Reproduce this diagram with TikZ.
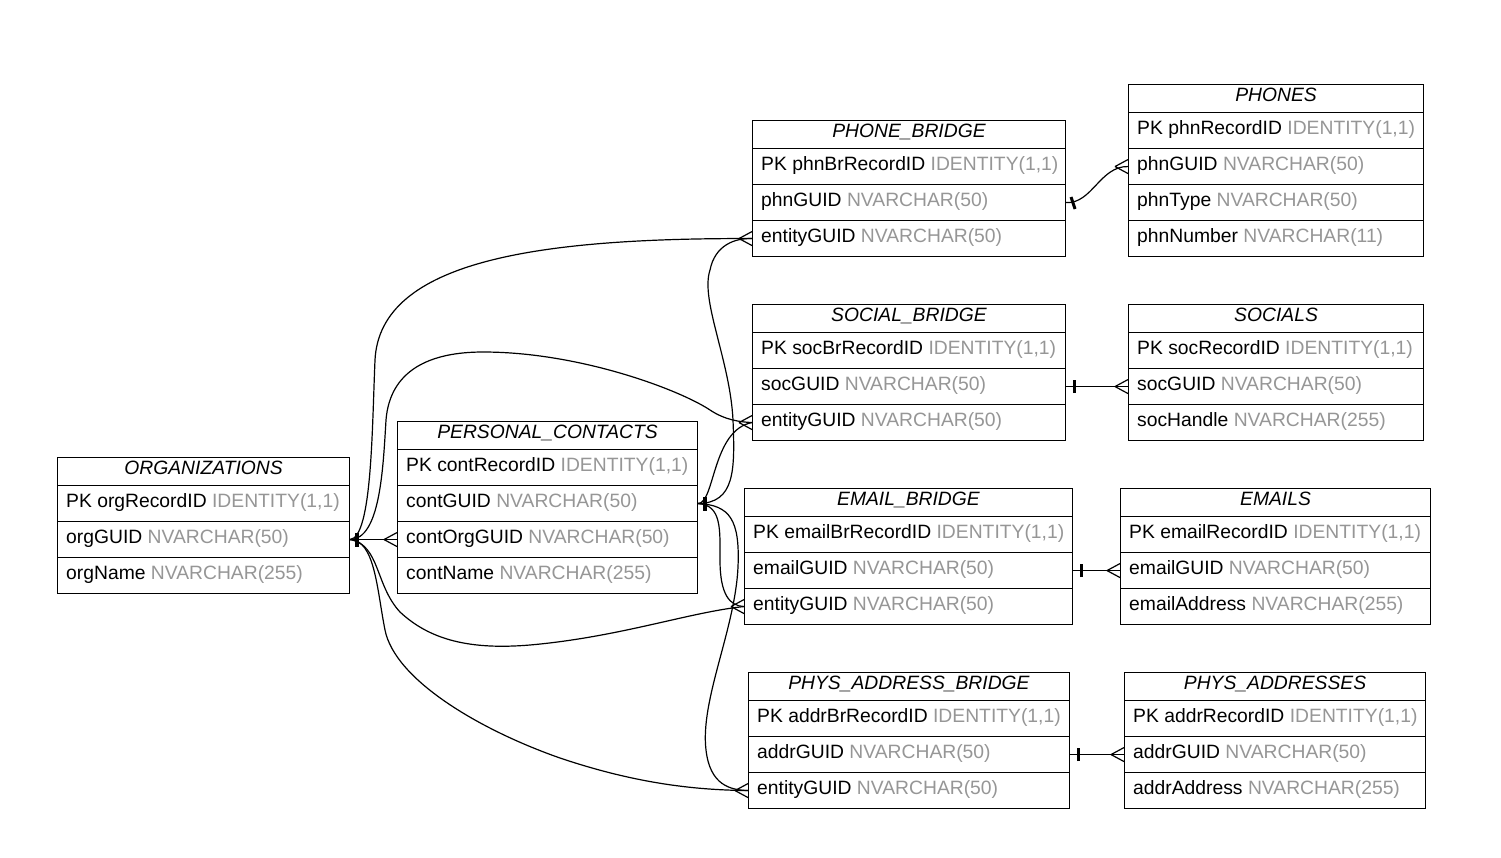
\documentclass[tikz,border=0pt]{standalone}
\usepackage{fontspec}
\setmainfont{Liberation Sans}
\definecolor{gtxt}{RGB}{150,150,150}
\tikzset{
  hdr/.style={draw, line width=1.1pt, anchor=north west, minimum height=28pt, inner sep=0pt, text height=12pt, text depth=6pt},
  rw/.style={draw, line width=1.1pt, anchor=north west, minimum height=36pt, inner sep=0pt},
  txt/.style={inner sep=0pt, text height=13pt, text depth=5pt, anchor=west},
  conn/.style={line width=1.2pt},
  onebar/.style={line width=3pt}
}
\newcommand{\ttl}[5]{\node[hdr, minimum width=#4] (#1) at (#2,#3) {\textit{#5}};}
\newcommand{\erow}[6]{\node[rw, minimum width=#4] (#1) at (#2,#3) {};
  \node[txt] (#1t) at ([xshift=9pt]#1.west) {#5 \textcolor{gtxt}{#6}};}
\newcommand{\crow}[1]{\draw[conn] ([xshift=-13pt]#1) -- ([yshift=7pt]#1) ([xshift=-13pt]#1) -- ([yshift=-7pt]#1);}
\newcommand{\obar}[1]{\draw[onebar] ([xshift=8pt,yshift=-6.5pt]#1) -- ([xshift=8pt,yshift=6.5pt]#1);}
\newcommand{\bigbar}[1]{\draw[line width=4.5pt] ([xshift=7pt,yshift=-7pt]#1) -- ([xshift=7pt,yshift=7pt]#1);}
\begin{document}
\begin{tikzpicture}[x=1pt,y=-1pt,font=\fontsize{19.3}{22}\selectfont]
\useasboundingbox[fill=white] (0,0) rectangle (1501,857);

% ORGANIZATIONS
\ttl{org0}{57}{457}{292}{ORGANIZATIONS}
\erow{org1}{57}{485}{292}{PK orgRecordID}{IDENTITY(1,1)}
\erow{org2}{57}{521}{292}{orgGUID}{NVARCHAR(50)}
\erow{org3}{57}{557}{292}{orgName}{NVARCHAR(255)}

% PERSONAL_CONTACTS
\ttl{pc0}{397}{421}{300}{PERSONAL\_CONTACTS}
\erow{pc1}{397}{449}{300}{PK contRecordID}{IDENTITY(1,1)}
\erow{pc2}{397}{485}{300}{contGUID}{NVARCHAR(50)}
\erow{pc3}{397}{521}{300}{contOrgGUID}{NVARCHAR(50)}
\erow{pc4}{397}{557}{300}{contName}{NVARCHAR(255)}

% PHONE_BRIDGE
\ttl{pb0}{752}{120}{313}{PHONE\_BRIDGE}
\erow{pb1}{752}{148}{313}{PK phnBrRecordID}{IDENTITY(1,1)}
\erow{pb2}{752}{184}{313}{phnGUID}{NVARCHAR(50)}
\erow{pb3}{752}{220}{313}{entityGUID}{NVARCHAR(50)}

% PHONES
\ttl{ph0}{1128}{84}{295}{PHONES}
\erow{ph1}{1128}{112}{295}{PK phnRecordID}{IDENTITY(1,1)}
\erow{ph2}{1128}{148}{295}{phnGUID}{NVARCHAR(50)}
\erow{ph3}{1128}{184}{295}{phnType}{NVARCHAR(50)}
\erow{ph4}{1128}{220}{295}{phnNumber}{NVARCHAR(11)}

% SOCIAL_BRIDGE
\ttl{sb0}{752}{304}{313}{SOCIAL\_BRIDGE}
\erow{sb1}{752}{332}{313}{PK socBrRecordID}{IDENTITY(1,1)}
\erow{sb2}{752}{368}{313}{socGUID}{NVARCHAR(50)}
\erow{sb3}{752}{404}{313}{entityGUID}{NVARCHAR(50)}

% SOCIALS
\ttl{so0}{1128}{304}{295}{SOCIALS}
\erow{so1}{1128}{332}{295}{PK socRecordID}{IDENTITY(1,1)}
\erow{so2}{1128}{368}{295}{socGUID}{NVARCHAR(50)}
\erow{so3}{1128}{404}{295}{socHandle}{NVARCHAR(255)}

% EMAIL_BRIDGE
\ttl{eb0}{744}{488}{328}{EMAIL\_BRIDGE}
\erow{eb1}{744}{516}{328}{PK emailBrRecordID}{IDENTITY(1,1)}
\erow{eb2}{744}{552}{328}{emailGUID}{NVARCHAR(50)}
\erow{eb3}{744}{588}{328}{entityGUID}{NVARCHAR(50)}

% EMAILS
\ttl{em0}{1120}{488}{310}{EMAILS}
\erow{em1}{1120}{516}{310}{PK emailRecordID}{IDENTITY(1,1)}
\erow{em2}{1120}{552}{310}{emailGUID}{NVARCHAR(50)}
\erow{em3}{1120}{588}{310}{emailAddress}{NVARCHAR(255)}

% PHYS_ADDRESS_BRIDGE
\ttl{ab0}{748}{672}{321}{PHYS\_ADDRESS\_BRIDGE}
\erow{ab1}{748}{700}{321}{PK addrBrRecordID}{IDENTITY(1,1)}
\erow{ab2}{748}{736}{321}{addrGUID}{NVARCHAR(50)}
\erow{ab3}{748}{772}{321}{entityGUID}{NVARCHAR(50)}

% PHYS_ADDRESSES
\ttl{ad0}{1124}{672}{301}{PHYS\_ADDRESSES}
\erow{ad1}{1124}{700}{301}{PK addrRecordID}{IDENTITY(1,1)}
\erow{ad2}{1124}{736}{301}{addrGUID}{NVARCHAR(50)}
\erow{ad3}{1124}{772}{301}{addrAddress}{NVARCHAR(255)}

% ---- connectors from orgGUID
\draw[conn] (org2.east) -- (pc3.west);
\draw[conn] (org2.east) .. controls (372,537) and (372,430) .. (375,360)
  .. controls (380,260) and (540,238) .. (pb3.west);
\draw[conn] (org2.east) .. controls (380,539) and (383,470) .. (386,420)
  .. controls (390,370) and (430,352) .. (483,352)
  .. controls (580,352) and (680,390) .. (710,410)
  .. controls (725,420) and (740,422) .. (sb3.west);
\draw[conn] (org2.east) .. controls (380,545) and (375,585) .. (400,612)
  .. controls (430,640) and (470,650) .. (530,645)
  .. controls (620,637) and (690,612) .. (eb3.west);
\draw[conn] (org2.east) .. controls (375,540) and (377,590) .. (385,630)
  .. controls (395,680) and (480,730) .. (560,758)
  .. controls (640,785) and (700,790) .. (ab3.west);

% ---- connectors from contGUID
\draw[conn] (pc2.east) .. controls (735,503) and (735,470) .. (733,420)
  .. controls (730,360) and (700,300) .. (710,270)
  .. controls (715,245) and (735,238) .. (pb3.west);
\draw[conn] (pc2.east) .. controls (715,503) and (712,430) .. (sb3.west);
\draw[conn] (pc2.east) .. controls (722,505) and (720,530) .. (720,560)
  .. controls (720,595) and (730,606) .. (eb3.west);
\draw[conn] (pc2.east) .. controls (730,505) and (740,520) .. (738,567)
  .. controls (735,630) and (700,700) .. (706,750)
  .. controls (710,785) and (730,790) .. (ab3.west);

% ---- bridge to detail tables
\draw[conn] (pb2.east) .. controls (1092,204) and (1100,166) .. (ph2.west);
\draw[conn] (sb2.east) -- (so2.west);
\draw[conn] (eb2.east) -- (em2.west);
\draw[conn] (ab2.east) -- (ad2.west);

% ---- crow's feet (many ends)
\crow{pc3.west}
\crow{pb3.west}
\crow{sb3.west}
\crow{eb3.west}
\crow{ab3.west}
\crow{ph2.west}
\crow{so2.west}
\crow{em2.west}
\crow{ad2.west}

% ---- bars (one ends)
\bigbar{org2.east}
\bigbar{pc2.east}
\obar{sb2.east}
\obar{eb2.east}
\obar{ab2.east}
\draw[onebar] (1071,197) -- (1075,209);
\end{tikzpicture}
\end{document}
